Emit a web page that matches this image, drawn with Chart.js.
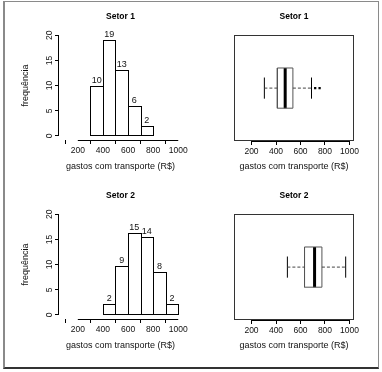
<!DOCTYPE html>
<html>
<head>
<meta charset="utf-8">
<script src="https://cdn.jsdelivr.net/npm/chart.js@4"></script>
<style>
  html, body { margin: 0; padding: 0; background: #fff; }
  #wrap { position: relative; width: 382px; height: 372px; }
  #frame { position: absolute; left: 3px; top: 1px; width: 373px; height: 365px;
           border: 1px solid #8a8a8a; border-left-width: 2px; border-bottom: 2px solid #333; }
  canvas { position: absolute; }
</style>
</head>
<body>
<div id="wrap">
  <div id="frame"></div>
  <canvas id="hist1" width="191" height="186" style="left:0;top:0"></canvas>
  <canvas id="box1" width="191" height="186" style="left:191px;top:0"></canvas>
  <canvas id="hist2" width="191" height="186" style="left:0;top:179px"></canvas>
  <canvas id="box2" width="191" height="186" style="left:191px;top:179px"></canvas>
</div>
<script>
// dados
const xTicks = [200, 400, 600, 800, 1000];
const yTicks = [0, 5, 10, 15, 20];
const binWidth = 100;

const bins1 = [300, 400, 500, 600, 700];
const heights1 = [10, 19, 13, 6, 2];
const labels1 = ['10', '19', '13', '6', '2'];

const bins2 = [400, 500, 600, 700, 800, 900];
const heights2 = [2.2, 9.8, 16.3, 15.4, 8.6, 2.2]; // altura desenhada das barras
const labels2 = ['2', '9', '15', '14', '8', '2'];

// min, Q1, mediana, Q3, max
const stats1 = [305, 411, 475, 538, 690];
const outliers1 = [720, 756];
const stats2 = [493, 633, 715, 775, 969];
const outliers2 = [];

const xTitle = 'gastos com transporte (R$)';
const yTitle = 'frequência';
const FONT = '"Liberation Sans", Arial, sans-serif';
const boxHalf = 0.19;
const capHalf = 0.1;

Chart.defaults.font.family = FONT;
Chart.defaults.color = '#111';

// eixos no estilo do R: linha só entre o primeiro e o último tick
const rAxes = {
  id: 'rAxes',
  afterDraw(chart, args, opts) {
    const { ctx, chartArea } = chart;
    const x = chart.scales.x;
    const y = chart.scales.y;
    ctx.save();
    ctx.strokeStyle = '#000';
    ctx.lineWidth = 1;
    ctx.beginPath();
    const xb = Math.round(chartArea.bottom) + 0.5;
    ctx.moveTo(x.getPixelForValue(xTicks[0]), xb);
    ctx.lineTo(x.getPixelForValue(xTicks[xTicks.length - 1]), xb);
    if (opts.yAxis) {
      const yl = Math.round(chartArea.left) - 0.5;
      ctx.moveTo(yl, y.getPixelForValue(yTicks[0]));
      ctx.lineTo(yl, y.getPixelForValue(yTicks[yTicks.length - 1]));
    }
    ctx.stroke();
    if (opts.frame) {
      ctx.strokeStyle = '#333';
      ctx.strokeRect(Math.round(chartArea.left) + 0.5, Math.round(chartArea.top) + 0.5,
        Math.round(chartArea.width) - 1, Math.round(chartArea.height) - 1);
    }
    ctx.restore();
  }
};

// contorno das barras (alinhado ao pixel) e número em cima de cada barra
const histBars = {
  id: 'histBars',
  afterDatasetsDraw(chart) {
    const ds = chart.data.datasets[0];
    const meta = chart.getDatasetMeta(0);
    const ctx = chart.ctx;
    ctx.save();
    ctx.strokeStyle = '#000';
    ctx.lineWidth = 1;
    meta.data.forEach((bar) => {
      const l = Math.round(bar.x - bar.width / 2) + 0.5;
      const r = Math.round(bar.x + bar.width / 2) + 0.5;
      const t = Math.round(bar.y) + 0.5;
      const b = Math.round(bar.base) + 0.5;
      ctx.strokeRect(l, t, r - l, b - t);
    });
    ctx.font = '9px ' + FONT;
    ctx.fillStyle = '#111';
    ctx.textAlign = 'center';
    ctx.textBaseline = 'bottom';
    meta.data.forEach((bar, i) => ctx.fillText(ds.barLabels[i], bar.x, bar.y - 1));
    ctx.restore();
  }
};

function xScale(min, max, height) {
  return {
    type: 'linear', min: min, max: max, offset: false,
    afterBuildTicks: (s) => { s.ticks = xTicks.map(v => ({ value: v })); },
    afterFit: (s) => { s.height = height; },
    ticks: { font: { size: 8.5 }, padding: 2, maxRotation: 0, autoSkip: false, callback: (v) => String(v) },
    grid: { display: true, drawOnChartArea: false, drawTicks: true, tickLength: 4, color: '#000' },
    border: { display: false },
    title: { display: true, text: xTitle, font: { size: 9 }, padding: { top: 0, bottom: 14 } }
  };
}

function plotTitle(text, top, bottom) {
  return { display: true, text: text, fullSize: false, color: '#000',
    font: { size: 8.5, weight: 'bold' }, padding: { top: top, bottom: bottom } };
}

function makeHistogram(id, title, bins, heights, labels) {
  const ctx = document.getElementById(id).getContext('2d');
  return new Chart(ctx, {
    type: 'bar',
    data: {
      datasets: [{
        data: bins.map((b, i) => ({ x: b + binWidth / 2, y: heights[i] })),
        barLabels: labels,
        backgroundColor: '#fff',
        borderWidth: 0,
        barPercentage: 1,
        categoryPercentage: 1,
        inflateAmount: 0
      }]
    },
    options: {
      responsive: false,
      animation: false,
      layout: { padding: { left: 0, right: 9, top: 0, bottom: 0 } },
      plugins: {
        legend: { display: false },
        tooltip: { enabled: false },
        title: plotTitle(title, 12, 9),
        rAxes: { yAxis: true, frame: false }
      },
      scales: {
        x: xScale(50, 1030, 46),
        y: {
          type: 'linear', min: -0.8, max: 20.8,
          afterBuildTicks: (s) => { s.ticks = yTicks.map(v => ({ value: v })); },
          afterFit: (s) => { s.width = 59; },
          ticks: { font: { size: 8.5 }, minRotation: 90, maxRotation: 90, crossAlign: 'center', padding: 1 },
          grid: { display: true, drawOnChartArea: false, drawTicks: true, tickLength: 4, color: '#000' },
          border: { display: false },
          title: { display: true, text: yTitle, font: { size: 9 }, padding: { top: 20, bottom: 0 } }
        }
      }
    },
    plugins: [rAxes, histBars]
  });
}

function boxDatasets(stats, outliers) {
  const [lo, q1, med, q3, hi] = stats;
  const seg = (pts, extra) => Object.assign({
    data: pts, showLine: true, pointRadius: 0, borderColor: '#000', borderWidth: 1, fill: false
  }, extra || {});
  return [
    seg([{ x: lo, y: 1 }, { x: q1, y: 1 }], { borderDash: [3, 2], borderColor: '#444' }),
    seg([{ x: q3, y: 1 }, { x: hi, y: 1 }], { borderDash: [3, 2], borderColor: '#444' }),
    seg([{ x: lo, y: 1 - capHalf }, { x: lo, y: 1 + capHalf }]),
    seg([{ x: hi, y: 1 - capHalf }, { x: hi, y: 1 + capHalf }]),
    seg([{ x: q1, y: 1 - boxHalf }, { x: q3, y: 1 - boxHalf }, { x: q3, y: 1 + boxHalf },
         { x: q1, y: 1 + boxHalf }, { x: q1, y: 1 - boxHalf }], { borderColor: '#555' }),
    seg([{ x: med, y: 1 - boxHalf }, { x: med, y: 1 + boxHalf }], { borderWidth: 3 }),
    { data: outliers.map(v => ({ x: v, y: 1 })), showLine: false, pointStyle: 'rect',
      pointRadius: 1.6, backgroundColor: '#000', borderWidth: 0 }
  ];
}

function makeBoxplot(id, title, stats, outliers) {
  const ctx = document.getElementById(id).getContext('2d');
  return new Chart(ctx, {
    type: 'scatter',
    data: { datasets: boxDatasets(stats, outliers) },
    options: {
      responsive: false,
      animation: false,
      layout: { padding: { left: 43, right: 28, top: 0, bottom: 0 } },
      plugins: {
        legend: { display: false },
        tooltip: { enabled: false },
        title: plotTitle(title, 12, 13),
        rAxes: { yAxis: false, frame: true }
      },
      scales: {
        x: xScale(57, 1037, 45),
        y: { type: 'linear', min: 0.5, max: 1.5, display: false }
      }
    },
    plugins: [rAxes]
  });
}

makeHistogram('hist1', 'Setor 1', bins1, heights1, labels1);
makeHistogram('hist2', 'Setor 2', bins2, heights2, labels2);
makeBoxplot('box1', 'Setor 1', stats1, outliers1);
makeBoxplot('box2', 'Setor 2', stats2, outliers2);
</script>
</body>
</html>
